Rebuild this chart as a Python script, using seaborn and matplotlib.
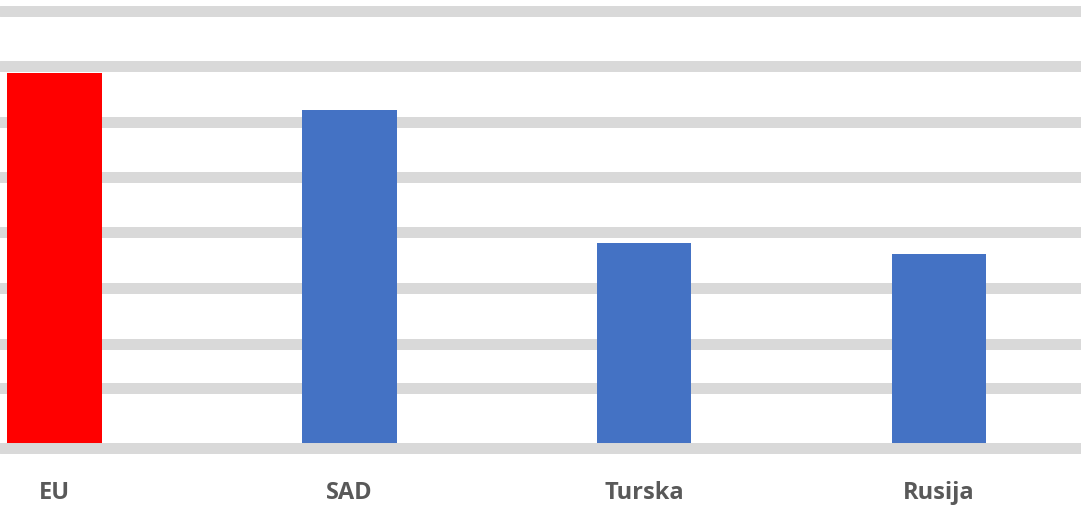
import matplotlib
matplotlib.use("Agg")
import matplotlib.pyplot as plt
import seaborn as sns
import pandas as pd

# data (arbitrary units, one grid step ~ 1)
categories = ["EU", "SAD", "Turska", "Rusija"]
values = [6.75, 6.08, 3.68, 3.48]
bar_colors = ["#FF0000", "#4472C4", "#4472C4", "#4472C4"]
grid_ticks = [0, 1.07, 1.87, 2.87, 3.88, 4.87, 5.87, 6.87, 7.87]

df = pd.DataFrame({"zemlja": categories, "vrijednost": values})

sns.set_theme(style="white")
plt.rcParams["font.family"] = ["Open Sans", "DejaVu Sans"]

fig = plt.figure(figsize=(10.81, 5.05), dpi=100)
ax = fig.add_axes([0, 57.5 / 505, 1, 447.5 / 505])

# grid lines under the bars
for t in grid_ticks[1:]:
    ax.axhline(t, color="#D9D9D9", lw=7.9, zorder=0)

sns.barplot(data=df, x="zemlja", y="vrijednost", hue="zemlja",
            palette=bar_colors, legend=False, width=0.32,
            saturation=1, linewidth=0, ax=ax, zorder=2)

# baseline sits on top of the bar bottoms
ax.axhline(0, color="#D9D9D9", lw=7.9, zorder=3, clip_on=False)

ax.set_xlim(-0.185, 3.481)
ax.set_ylim(0, 8.063)
ax.set_yticks([])
ax.set_xlabel("")
ax.set_ylabel("")
for s in ax.spines.values():
    s.set_visible(False)

ax.tick_params(axis="x", length=0, pad=24, labelsize=17, labelcolor="#595959")
for lab in ax.get_xticklabels():
    lab.set_fontweight("bold")

fig.savefig("out.png", dpi=100)
